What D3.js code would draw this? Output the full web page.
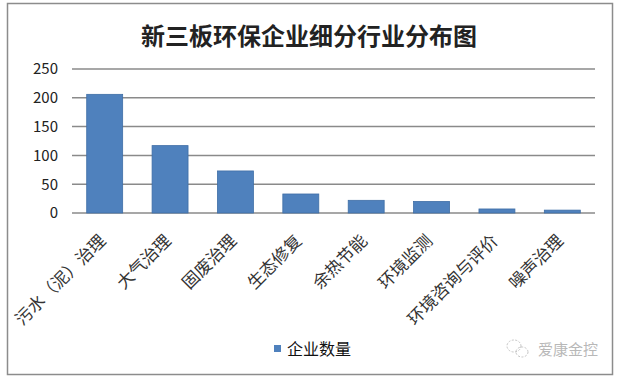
<!DOCTYPE html>
<html lang="zh">
<head>
<meta charset="utf-8">
<title>新三板环保企业细分行业分布图</title>
<script src="https://d3js.org/d3.v7.min.js"></script>
<style>
  body { margin: 0; background: #fff; }
  text { font-family: "Noto Sans CJK SC", "Noto Sans", sans-serif; }
</style>
</head>
<body>
<script>
// chart data
var categories = ["污水（泥）治理", "大气治理", "固废治理", "生态修复", "余热节能", "环境监测", "环境咨询与评价", "噪声治理"];
var values = [206, 117, 73, 33, 22, 20, 7, 5];
var yTicks = [0, 50, 100, 150, 200, 250];
var seriesName = "企业数量";
var title = "新三板环保企业细分行业分布图";

var w = 620, h = 380;
var plotLeft = 72, plotRight = 595, plotTop = 69, plotBottom = 213;

var svg = d3.select("body").append("svg")
    .attr("width", w)
    .attr("height", h);

// outer frame
svg.append("rect")
   .attr("x", 7.5).attr("y", 3.5)
   .attr("width", 605).attr("height", 371)
   .attr("fill", "#fff")
   .attr("stroke", "#8c8c8c")
   .attr("stroke-width", 1.5);

svg.append("text")
   .attr("x", 309).attr("y", 45)
   .attr("text-anchor", "middle")
   .attr("font-size", "24px")
   .attr("font-weight", "bold")
   .attr("fill", "#222")
   .text(title);

var xScale = d3.scaleBand()
    .domain(categories)
    .range([plotLeft, plotRight])
    .paddingInner(0.45)
    .paddingOuter(0.225);

var yScale = d3.scaleLinear()
    .domain([0, 250])
    .range([plotBottom, plotTop]);

// gridlines
svg.selectAll(".grid")
   .data(yTicks)
   .enter()
   .append("line")
   .attr("class", "grid")
   .attr("x1", plotLeft).attr("x2", plotRight)
   .attr("y1", function(d) { return yScale(d); })
   .attr("y2", function(d) { return yScale(d); })
   .attr("stroke", "#8a8a8a")
   .attr("stroke-width", 1.5);

// y labels
var yAxis = d3.axisLeft(yScale).tickValues(yTicks).tickSize(0).tickPadding(0);
var gy = svg.append("g")
    .attr("transform", "translate(" + (plotLeft - 14) + ",0)")
    .call(yAxis);
gy.select(".domain").remove();
gy.selectAll("text")
  .attr("font-size", "15px")
  .attr("fill", "#222")
  .attr("font-family", "Arial, 'Liberation Sans', sans-serif");

// bars
svg.selectAll(".bar")
   .data(values)
   .enter()
   .append("rect")
   .attr("class", "bar")
   .attr("x", function(d, i) { return xScale(categories[i]); })
   .attr("y", function(d) { return yScale(d); })
   .attr("width", xScale.bandwidth())
   .attr("height", function(d) { return plotBottom - yScale(d); })
   .attr("fill", "#4f81bd")
   .attr("stroke", "#3f6ea6")
   .attr("stroke-width", 0.8);

// x category labels, rotated
svg.selectAll(".xlab")
   .data(categories)
   .enter()
   .append("text")
   .attr("class", "xlab")
   .attr("text-anchor", "end")
   .attr("font-size", "17px")
   .attr("fill", "#333")
   .attr("transform", function(d) {
     var cx = xScale(d) + xScale.bandwidth() / 2;
     return "translate(" + (cx + 2) + "," + (plotBottom + 29) + ") rotate(-45)";
   })
   .text(function(d) { return d; });

// legend
svg.append("rect")
   .attr("x", 274).attr("y", 345)
   .attr("width", 7).attr("height", 7)
   .attr("fill", "#4f81bd");
svg.append("text")
   .attr("x", 287).attr("y", 355)
   .attr("font-size", "16px")
   .attr("fill", "#111")
   .text(seriesName);

// watermark
var mark = svg.append("g").attr("fill", "none").attr("stroke", "#c4c4c4").attr("stroke-dasharray", "2,1.5");
mark.append("ellipse").attr("cx", 514).attr("cy", 346).attr("rx", 7).attr("ry", 6);
mark.append("ellipse").attr("cx", 522).attr("cy", 352).attr("rx", 6).attr("ry", 5);
svg.append("text")
   .attr("x", 598).attr("y", 355)
   .attr("text-anchor", "end")
   .attr("font-size", "15px")
   .attr("fill", "#b8b8b8")
   .text("爱康金控");
</script>
</body>
</html>
